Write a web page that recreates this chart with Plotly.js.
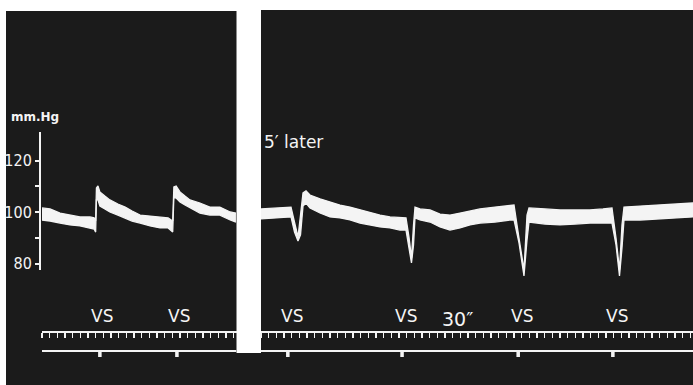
<!DOCTYPE html>
<html>
<head>
<meta charset="utf-8">
<script src="https://cdn.plot.ly/plotly-3.0.1.min.js"></script>
<style>html,body{margin:0;padding:0;background:#fff;}#chart{width:693px;height:385px;}</style>
</head>
<body>
<div id="chart"></div>
<script>
// ---------- DATA (read from the recording) ----------
// Left panel: time (s) from start of trace, systolic / diastolic envelope (mm Hg)
const leftTime = [0, 2.1, 4.7, 7.3, 9.9, 12.5, 13.6, 14.0, 14.2, 14.6, 15.1, 16.4, 17.7, 19.8, 21.7, 23.5, 25.6, 28.2, 30.8, 32.9, 34.1, 34.4, 35.0, 36.0, 37.3, 38.6, 41.2, 43.8, 46.4, 49.1, 50.6];
const leftSys  = [101.6, 101.2, 99.6, 98.8, 98.1, 98.1, 97.7, 96.5, 109.3, 110.1, 107.8, 106.2, 104.7, 103.1, 101.9, 100.4, 98.8, 98.4, 98.1, 97.7, 96.5, 109.7, 110.1, 107.8, 106.2, 104.7, 103.5, 101.9, 101.9, 100.0, 99.6];
const leftDia  = [96.9, 96.5, 95.7, 95.0, 94.6, 93.8, 93.4, 92.2, 104.7, 104.7, 102.3, 101.2, 100.0, 98.8, 97.7, 96.5, 95.7, 94.6, 93.8, 93.8, 92.2, 105.8, 105.4, 103.9, 102.7, 101.6, 99.6, 98.8, 98.8, 96.9, 96.1];
const leftStim = [15.1, 35.2];   // vagal stimulation (VS) marks, s

// Right panel ("5' later")
const rightTime = [0, 3.65, 7.83, 8.74, 9.65, 10.31, 10.96, 11.74, 12.78, 15.39, 18.0, 20.61, 23.22, 25.83, 28.44, 31.05, 33.66, 36.26, 37.83, 38.61, 39.26, 39.79, 40.18, 41.48, 44.09, 46.7, 49.31, 51.92, 54.53, 57.14, 61.05, 64.96, 66.01, 67.31, 68.61, 69.4, 69.92, 74.09, 78.01, 81.93, 85.83, 89.23, 91.57, 92.62, 93.53, 94.18, 94.7, 98.88, 102.79, 106.7, 112.72];
const rightSys  = [101.2, 101.6, 101.9, 96.1, 90.3, 98.8, 107.4, 108.2, 106.6, 105.1, 103.9, 102.7, 101.9, 100.8, 100.0, 98.8, 98.1, 97.7, 97.7, 90.3, 82.1, 95.0, 101.9, 101.2, 100.8, 99.2, 98.8, 99.6, 100.4, 101.2, 101.9, 102.7, 102.7, 89.9, 77.5, 98.8, 101.6, 101.2, 100.8, 100.8, 100.8, 101.2, 101.6, 89.9, 77.5, 95.0, 101.9, 102.3, 102.7, 103.1, 103.5];
const rightDia  = [97.3, 97.7, 98.1, 92.2, 88.7, 91.1, 102.3, 103.5, 101.6, 99.6, 98.1, 97.7, 96.9, 95.7, 95.0, 94.2, 93.8, 93.0, 93.0, 86.4, 80.2, 87.2, 97.7, 96.9, 96.1, 94.2, 93.0, 93.8, 95.0, 95.7, 96.1, 96.9, 96.9, 88.0, 75.2, 89.1, 96.1, 95.3, 95.0, 95.3, 95.7, 95.7, 95.7, 87.2, 75.2, 86.0, 96.9, 96.9, 97.3, 97.7, 98.1];
const rightStim = [7.0, 36.8, 67.1, 91.8];

// Scale bar ticks (mm Hg)
const scaleTicks  = [80, 90, 100, 110, 120];
const scaleLabels = ['80', '', '100', '', '120'];
const stimLabel = 'VS';
const intervalLabel = '30\u2033';
const unitLabel = 'mm.Hg';
const laterLabel = '5\u2032 later';

// ---------- LAYOUT GEOMETRY ----------
const W = 693, H = 385;
const px100 = 212, pxPerMm = 2.575;          // 100 mmHg at y=212px
const pxPerSec = 3.833;
const mmAt = py => 100 - (py - px100) / pxPerMm;
const fx = p => p / W;
const fy = p => (H - p) / H;
const leftX0 = 42, leftX1 = 236.5, rightX0 = 261, rightX1 = 693;
const tickRowY = 331.5;
const BG = '#1b1b1b', FG = '#f4f4f4';
const FONT = 'DejaVu Sans, Verdana, sans-serif';
const NARROW = 'Liberation Sans Narrow, Arial Narrow, DejaVu Sans Condensed, sans-serif';

function stimSignal(times, tEnd) {
  const x = [0], y = [1];
  times.forEach(s => { x.push(s - 0.2, s - 0.2, s + 0.2, s + 0.2); y.push(1, 0, 0, 1); });
  x.push(tEnd); y.push(1);
  return {x, y};
}
const leftEnd = (leftX1 - leftX0) / pxPerSec;
const rightEnd = (rightX1 - rightX0) / pxPerSec;
const ls = stimSignal(leftStim, leftEnd), rs = stimSignal(rightStim, rightEnd);

const band = {mode: 'lines', line: {color: FG, width: 1.3}, hoverinfo: 'skip', showlegend: false};
const traces = [
  Object.assign({x: leftTime, y: leftDia, xaxis: 'x', yaxis: 'y'}, band),
  Object.assign({x: leftTime, y: leftSys, xaxis: 'x', yaxis: 'y', fill: 'tonexty', fillcolor: FG}, band),
  Object.assign({x: rightTime, y: rightDia, xaxis: 'x2', yaxis: 'y'}, band),
  Object.assign({x: rightTime, y: rightSys, xaxis: 'x2', yaxis: 'y', fill: 'tonexty', fillcolor: FG}, band),
  {x: ls.x, y: ls.y, xaxis: 'x', yaxis: 'y3', mode: 'lines', line: {color: FG, width: 2}, hoverinfo: 'skip'},
  {x: rs.x, y: rs.y, xaxis: 'x2', yaxis: 'y3', mode: 'lines', line: {color: FG, width: 2}, hoverinfo: 'skip'},
  {x: scaleTicks.map(() => 0), y: scaleTicks, xaxis: 'x', yaxis: 'y2', mode: 'markers', marker: {opacity: 0}, hoverinfo: 'skip'}
];

const timeAxis = (d0, d1, r1) => ({
  domain: [fx(d0), fx(d1)], range: [0, r1], anchor: 'free', position: fy(tickRowY),
  showline: true, linecolor: FG, linewidth: 2, ticks: 'outside', ticklen: 5, tickwidth: 1.5,
  tickcolor: FG, tick0: 0, dtick: 2, showticklabels: false, showgrid: false, zeroline: false, fixedrange: true
});

const annotations = [];
leftStim.forEach(s => annotations.push({x: s, xref: 'x', xanchor: 'center', y: fy(316), yref: 'paper', yanchor: 'middle', text: stimLabel, showarrow: false, xshift: 2, font: {family: FONT, size: 17, color: FG}}));
rightStim.forEach(s => annotations.push({x: s, xref: 'x2', xanchor: 'center', y: fy(316), yref: 'paper', yanchor: 'middle', text: stimLabel, showarrow: false, xshift: 4, font: {family: FONT, size: 17, color: FG}}));
annotations.push({x: (rightStim[1] + rightStim[2]) / 2, xref: 'x2', xanchor: 'center', y: fy(319), yref: 'paper', yanchor: 'middle', text: intervalLabel, showarrow: false, xshift: -3, font: {family: FONT, size: 19, color: FG}});
annotations.push({x: fx(35), xref: 'paper', xanchor: 'center', y: fy(117), yref: 'paper', yanchor: 'middle', text: '<b>' + unitLabel + '</b>', showarrow: false, font: {family: FONT, size: 12, color: FG}});
annotations.push({x: fx(262), xref: 'paper', xanchor: 'left', y: fy(142), yref: 'paper', yanchor: 'middle', text: laterLabel, showarrow: false, font: {family: FONT, size: 17, color: FG}});

const layout = {
  width: W, height: H, margin: {l: 0, r: 0, t: 0, b: 0, pad: 0},
  paper_bgcolor: '#ffffff', plot_bgcolor: 'rgba(0,0,0,0)', showlegend: false,
  xaxis: timeAxis(leftX0, leftX1, leftEnd),
  xaxis2: timeAxis(rightX0, rightX1, rightEnd),
  yaxis: {domain: [0, 1], range: [mmAt(H), mmAt(0)], visible: false, fixedrange: true, anchor: 'x'},
  yaxis2: {domain: [fy(270), fy(132)], range: [mmAt(270), mmAt(132)], anchor: 'free', position: fx(40), side: 'left',
           showline: true, linecolor: FG, linewidth: 2, ticks: 'outside', ticklen: 4, tickwidth: 2, tickcolor: FG,
           tickvals: scaleTicks, ticktext: scaleLabels, tickfont: {family: NARROW, size: 16, color: FG},
           showgrid: false, zeroline: false, fixedrange: true},
  yaxis3: {domain: [fy(358), fy(350)], range: [-0.4, 1.2], visible: false, fixedrange: true, anchor: 'x'},
  shapes: [
    {type: 'rect', xref: 'paper', yref: 'paper', x0: fx(6), x1: fx(leftX1), y0: 0, y1: fy(11), fillcolor: BG, line: {width: 0}, layer: 'below'},
    {type: 'rect', xref: 'paper', yref: 'paper', x0: fx(rightX0), x1: 1, y0: 0, y1: fy(10), fillcolor: BG, line: {width: 0}, layer: 'below'},
    {type: 'rect', xref: 'paper', yref: 'paper', x0: fx(6), x1: 1, y0: 0, y1: fy(353), fillcolor: BG, line: {width: 0}, layer: 'below'}
  ],
  annotations: annotations
};

Plotly.newPlot('chart', traces, layout, {staticPlot: true, displayModeBar: false});
</script>
</body>
</html>
